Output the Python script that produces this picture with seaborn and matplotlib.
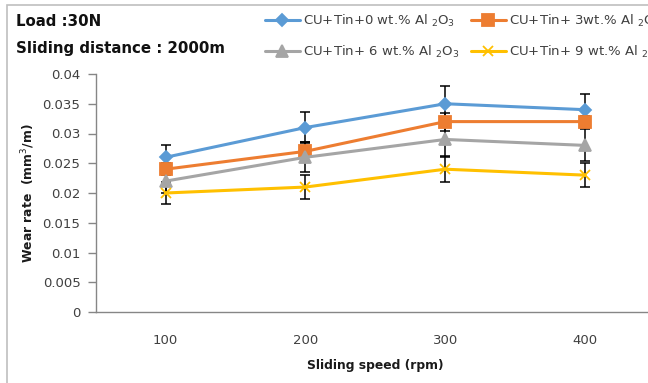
import numpy as np
import pandas as pd
import matplotlib
matplotlib.use("Agg")
import matplotlib.pyplot as plt
import seaborn as sns
from matplotlib.patches import Rectangle

# Wear rate (mm^3/m) versus sliding speed, load 30 N, sliding distance 2000 m
speeds = [100, 200, 300, 400]
series_labels = [
    "CU+Tin+0 wt.% Al $_2$O$_3$",
    "CU+Tin+ 3wt.% Al $_2$O$_3$",
    "CU+Tin+ 6 wt.% Al $_2$O$_3$",
    "CU+Tin+ 9 wt.% Al $_2$O$_3$",
]
wear_0 = [0.026, 0.031, 0.035, 0.034]
wear_3 = [0.024, 0.027, 0.032, 0.032]
wear_6 = [0.022, 0.026, 0.029, 0.028]
wear_9 = [0.020, 0.021, 0.024, 0.023]
err_0 = [0.002, 0.0026, 0.003, 0.0027]
err_3 = [0.001, 0.0015, 0.0015, 0.001]
err_6 = [0.002, 0.0025, 0.003, 0.0027]
err_9 = [0.0018, 0.002, 0.0022, 0.002]
y_ticks = [0, 0.005, 0.01, 0.015, 0.02, 0.025, 0.03, 0.035, 0.04]
y_tick_labels = ["0", "0.005", "0.01", "0.015", "0.02", "0.025", "0.03", "0.035", "0.04"]

colors = ["#5B9BD5", "#ED7D31", "#A5A5A5", "#FFC000"]
marker_shapes = ["D", "s", "^", "x"]
marker_sizes = [6, 8, 8, 7.5]

wear_all = [wear_0, wear_3, wear_6, wear_9]
err_all = [err_0, err_3, err_6, err_9]

sns.set_theme(style="white")
plt.rcParams["font.family"] = ["DejaVu Sans"]
plt.rcParams["mathtext.fontset"] = "dejavusans"

fig = plt.figure(figsize=(6.48, 3.83), dpi=100)
ax = fig.add_axes([95.7 / 648, 71 / 383, 559.3 / 648, 238 / 383])

# error bars first so the lines and markers sit on top
for w, e in zip(wear_all, err_all):
    ax.errorbar(speeds, w, yerr=e, fmt="none", ecolor="black",
                elinewidth=1.1, capsize=3.5, capthick=1.1, zorder=2)

handles = []
for label, w, c, m, ms in zip(series_labels, wear_all, colors,
                              marker_shapes, marker_sizes):
    df = pd.DataFrame({"speed": speeds, "wear": w})
    sns.lineplot(data=df, x="speed", y="wear", color=c, marker=m,
                 linewidth=2.2, ax=ax, zorder=3)
    line = ax.lines[-1]
    line.set_markeredgecolor(c)
    line.set_markerfacecolor(c)
    line.set_markersize(ms)
    line.set_markeredgewidth(1.3)
    handles.append(line)

ax.set_xlim(50, 450)
ax.set_ylim(0, 0.04)
ax.set_xticks(speeds)
ax.set_xticklabels([str(s) for s in speeds], fontsize=9.5, color="#404040")
ax.set_yticks(y_ticks)
ax.set_yticklabels(y_tick_labels, fontsize=9.5, color="#404040")
ax.tick_params(axis="y", length=6, width=1, color="#868686", pad=5, left=True)
ax.tick_params(axis="x", length=0, pad=16)

for side in ["top", "right"]:
    ax.spines[side].set_visible(False)
for side in ["left", "bottom"]:
    ax.spines[side].set_color("#868686")
    ax.spines[side].set_linewidth(1)

ax.set_xlabel("Sliding speed (rpm)", fontsize=8.9, fontweight="bold",
              color="#1a1a1a", labelpad=8.5)
ax.set_ylabel("Wear rate  (mm$^3$/m)", fontsize=8.9, fontweight="bold",
              color="#1a1a1a", labelpad=4)

order = [0, 2, 1, 3]
fig.legend([handles[i] for i in order], [series_labels[i] for i in order],
           ncol=2, loc="upper left", bbox_to_anchor=(265 / 648, 1 - 13 / 383),
           frameon=False, prop={"size": 9.5},
           labelcolor="#404040",
           handlelength=2.65, handletextpad=0.25, columnspacing=0.85,
           labelspacing=1.1, borderaxespad=0, borderpad=0)

fig.text(16 / 648, 1 - 22 / 383, "Load :30N", fontsize=10.8,
         fontweight="bold", va="center", color="#111111")
fig.text(16 / 648, 1 - 48 / 383, "Sliding distance : 2000m", fontsize=10.8,
         fontweight="bold", va="center", color="#111111")

# chart-area frame
fig.patches.append(Rectangle((7 / 648, -0.05), 1.0, 1 - 5 / 383 + 0.05,
                             transform=fig.transFigure, fill=False,
                             edgecolor="#BFBFBF", linewidth=1.2))

fig.savefig("out.png", dpi=100)
